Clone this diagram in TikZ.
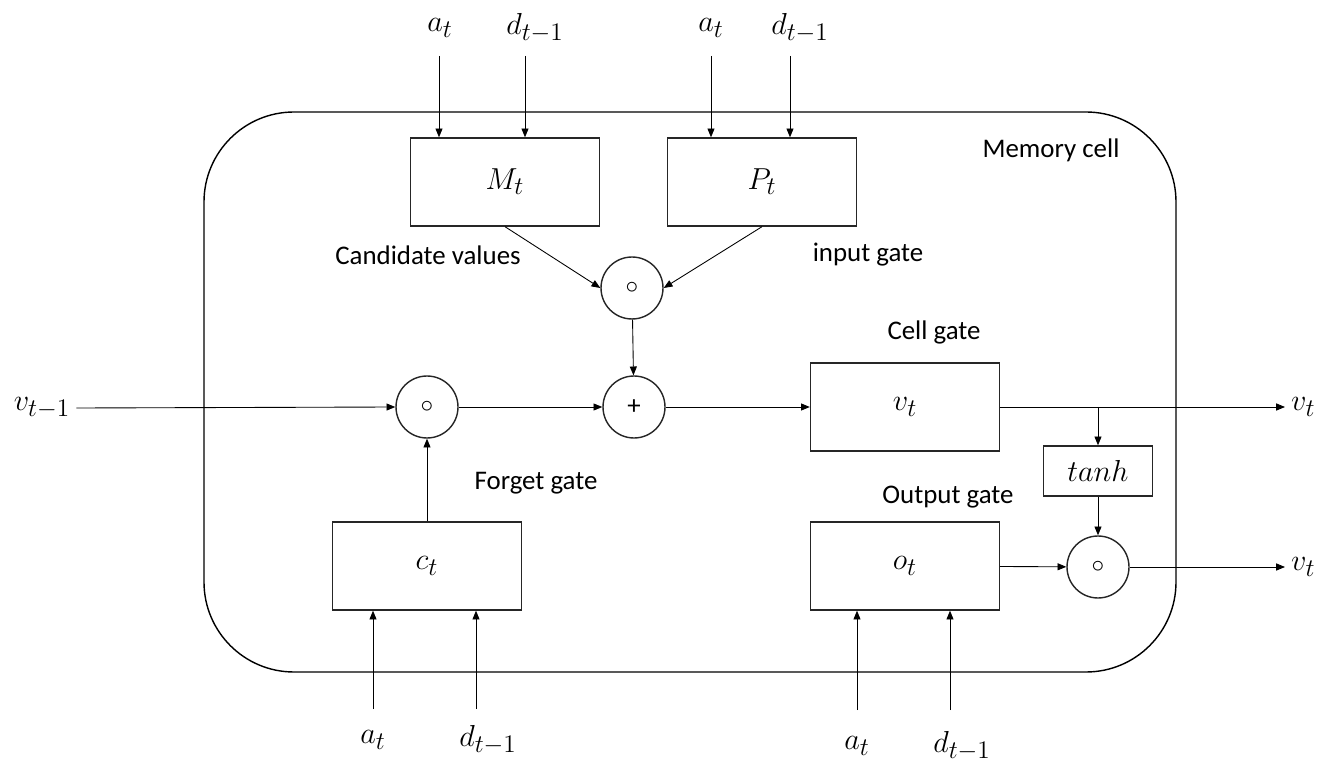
\documentclass[tikz,border=0pt]{standalone}
\usepackage{fontspec}
\setmainfont{Carlito}
\usetikzlibrary{arrows.meta}

\tikzset{
  mathsz/.style={font=\fontsize{19}{22}\selectfont},
  gatebox/.style={draw=black!85, line width=0.8pt, minimum width=3.78cm, minimum height=1.76cm, inner sep=0pt, mathsz},
  opcirc/.style={draw=black!85, line width=0.8pt, circle, minimum size=1.24cm, inner sep=0pt},
  flow/.style={->, line width=0.5pt},
}

\begin{document}
\begin{tikzpicture}[x=0.02cm, y=-0.02cm, >={Triangle[length=5pt,width=4pt]}, font=\fontsize{15.3}{18}\selectfont]
  \useasboundingbox (0,0) rectangle (1332,766);

  % memory cell outline
  \draw[line width=0.8pt, rounded corners=1.8cm] (204,112) rectangle (1176,672);
  \node (cell) at (1051,150) {Memory cell};

  % gates
  \node[gatebox] (M) at (505,182) {$M_t$};
  \node[gatebox] (P) at (762,182) {$P_t$};
  \node[gatebox] (c) at (427,566) {$c_t$};
  \node[gatebox] (v) at (905,407) {$v_t$};
  \node[gatebox] (o) at (905,566) {$o_t$};
  \node[gatebox, minimum width=2.18cm, minimum height=1cm] (tanh) at (1098,471) {$tanh$};

  % pointwise operations
  \node[opcirc] (mul) at (632,288) {$\circ$};
  \node[opcirc] (fgt) at (427,407) {$\circ$};
  \node[opcirc] (add) at (634,407) {+};
  \node[opcirc] (out) at (1098,567) {$\circ$};

  % gate names
  \node (candlbl) at (428,255) {Candidate values};
  \node (inlbl)   at (868,255) {input gate};
  \node (celllbl) at (934,332) {Cell gate};
  \node (fgtlbl)  at (536,483) {Forget gate};
  \node (outlbl)  at (948,497) {Output gate};

  % inputs of M_t and P_t
  \coordinate (aM) at (439,56); \node[mathsz] (aMl) at (440,28) {$a_t$};
  \coordinate (dM) at (525,56); \node[mathsz] (dMl) at (535,28) {$d_{t-1}$};
  \coordinate (aP) at (711,56); \node[mathsz] (aPl) at (711,28) {$a_t$};
  \coordinate (dP) at (790,56); \node[mathsz] (dPl) at (800,28) {$d_{t-1}$};
  \draw[flow] (aM) -- (aM |- M.north);
  \draw[flow] (dM) -- (dM |- M.north);
  \draw[flow] (aP) -- (aP |- P.north);
  \draw[flow] (dP) -- (dP |- P.north);

  % inputs of c_t and o_t
  \coordinate (ac) at (373,709); \node[mathsz] (acl) at (373,740) {$a_t$};
  \coordinate (dc) at (476,709); \node[mathsz] (dcl) at (488,740) {$d_{t-1}$};
  \coordinate (ao) at (857,710); \node[mathsz] (aol) at (857,746) {$a_t$};
  \coordinate (do) at (950,710); \node[mathsz] (dol) at (962,746) {$d_{t-1}$};
  \draw[flow] (ac) -- (ac |- c.south);
  \draw[flow] (dc) -- (dc |- c.south);
  \draw[flow] (ao) -- (ao |- o.south);
  \draw[flow] (do) -- (do |- o.south);

  % cell state path
  \node[mathsz] (vin) at (42,408) {$v_{t-1}$};
  \draw[flow] (vin.east) -- (fgt.west);
  \draw[flow] (c) -- (fgt);
  \draw[flow] (M.south) -- (mul.west);
  \draw[flow] (P.south) -- (mul.east);
  \draw[flow] (mul) -- (add);
  \draw[flow] (fgt) -- (add);
  \draw[flow] (add) -- (v);

  % outputs
  \coordinate (vend) at (1285,407); \node[right, mathsz] (vout) at (vend) {$v_t$};
  \coordinate (hend) at (1285,567); \node[right, mathsz] (hout) at (hend) {$v_t$};
  \coordinate (split) at (tanh.north |- v.east);
  \draw[flow] (v.east) -- (vend);
  \draw[flow] (split) -- (tanh);
  \draw[flow] (tanh) -- (out);
  \draw[flow] (o) -- (out);
  \draw[flow] (out) -- (hend);
\end{tikzpicture}
\end{document}
